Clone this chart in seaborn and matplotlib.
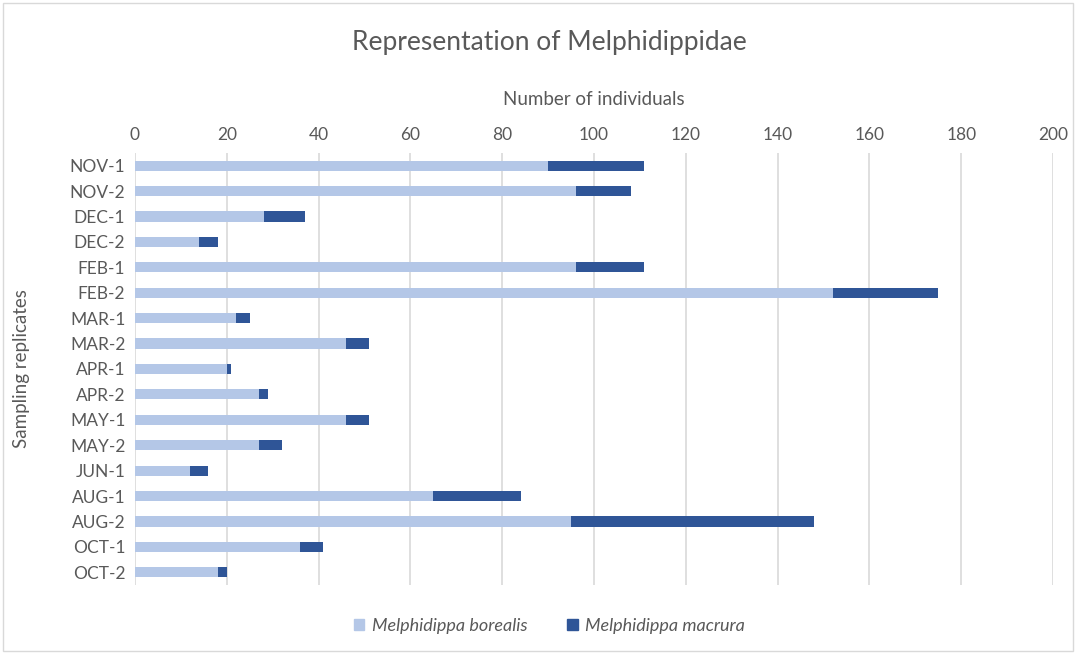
import matplotlib.pyplot as plt
import matplotlib.patches as mpatches
import numpy as np
import pandas as pd
import seaborn as sns

# values
replicates = ['NOV-1', 'NOV-2', 'DEC-1', 'DEC-2', 'FEB-1', 'FEB-2', 'MAR-1', 'MAR-2',
              'APR-1', 'APR-2', 'MAY-1', 'MAY-2', 'JUN-1', 'AUG-1', 'AUG-2', 'OCT-1', 'OCT-2']
borealis = [90, 96, 28, 14, 96, 152, 22, 46, 20, 27, 46, 27, 12, 65, 95, 36, 18]
macrura = [21, 12, 9, 4, 15, 23, 3, 5, 1, 2, 5, 5, 4, 19, 53, 5, 2]
x_ticks = [0, 20, 40, 60, 80, 100, 120, 140, 160, 180, 200]

light = '#B4C7E7'
dark = '#2F5597'
grey_text = '#595959'

df = pd.DataFrame({'replicate': replicates, 'borealis': borealis, 'macrura': macrura})
df['total'] = df.borealis + df.macrura

sns.set_style('white')
plt.rcParams['font.family'] = ['Lato', 'DejaVu Sans']

fig = plt.figure(figsize=(10.79, 6.54), dpi=100)
ax = fig.add_axes([0.1251, 0.1055, 0.8508, 0.6606])

# stacked bars: total underneath, borealis on top
sns.barplot(data=df, x='total', y='replicate', color=dark, width=0.4, ax=ax,
            saturation=1, edgecolor='none')
sns.barplot(data=df, x='borealis', y='replicate', color=light, width=0.4, ax=ax,
            saturation=1, edgecolor='none')

ax.set_xlim(0, 200)
ax.set_xticks(x_ticks)
ax.xaxis.tick_top()
ax.xaxis.set_label_position('top')
ax.tick_params(axis='both', length=0, labelsize=12.5, labelcolor=grey_text, pad=7)
ax.set_axisbelow(True)
ax.grid(axis='x', color='#D9D9D9', linewidth=1.2)
for s in ax.spines.values():
    s.set_visible(False)

ax.set_xlabel('Number of individuals', fontsize=13.5, color=grey_text)
ax.xaxis.set_label_coords(0.5, 1.11)
ax.set_ylabel('Sampling replicates', fontsize=13.5, color=grey_text)
ax.yaxis.set_label_coords(-0.114, 0.5)

fig.text(0.509, 0.935, 'Representation of Melphidippidae', ha='center', va='center',
         fontsize=19, color=grey_text)

handles = [mpatches.Patch(color=light, label='Melphidippa borealis'),
           mpatches.Patch(color=dark, label='Melphidippa macrura')]
leg = fig.legend(handles=handles, loc='center', bbox_to_anchor=(0.509, 0.043), ncol=2,
                 frameon=False, fontsize=13, handlelength=0.6, handleheight=0.6,
                 columnspacing=2.2, handletextpad=0.4)
for t in leg.get_texts():
    t.set_color(grey_text)
    t.set_fontstyle('italic')

# chart border
fig.patches.append(mpatches.Rectangle((0.003, 0.005), 0.991, 0.99, transform=fig.transFigure,
                                      fill=False, edgecolor='#D9D9D9', linewidth=1))

fig.savefig('out.png', dpi=100)
